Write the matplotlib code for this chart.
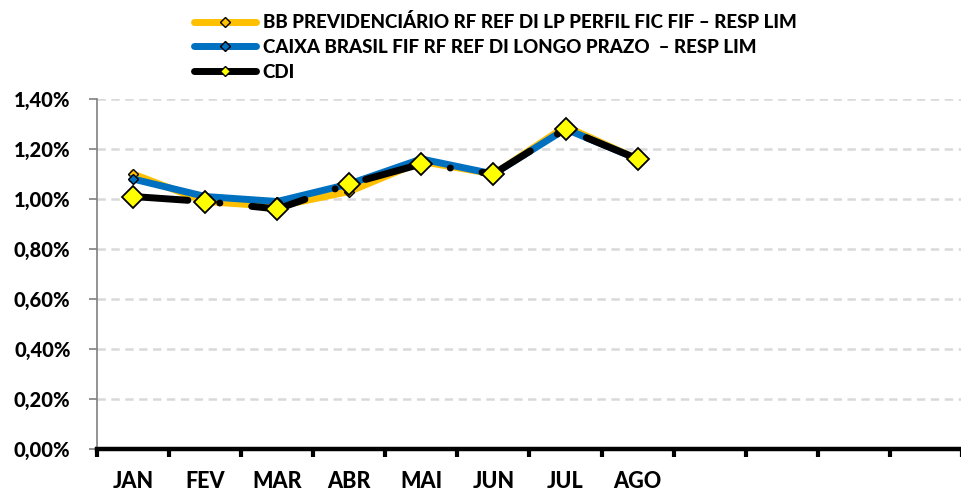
import numpy as np
import matplotlib.pyplot as plt
from matplotlib.lines import Line2D
from matplotlib.ticker import FuncFormatter

# Data
#-----------------------------------------------------------------------------#
months = ['JAN', 'FEV', 'MAR', 'ABR', 'MAI', 'JUN', 'JUL', 'AGO', '', '', '', '']
bb     = [1.10, 0.99, 0.97, 1.03, 1.15, 1.10, 1.29, 1.16]
caixa  = [1.08, 1.01, 0.99, 1.06, 1.16, 1.10, 1.28, 1.16]
cdi    = [1.01, 0.99, 0.96, 1.06, 1.14, 1.10, 1.28, 1.16]
labels = ['BB PREVIDENCIÁRIO RF REF DI LP PERFIL FIC FIF – RESP LIM',
          'CAIXA BRASIL FIF RF REF DI LONGO PRAZO  – RESP LIM',
          'CDI']
yticks = [0.0, 0.2, 0.4, 0.6, 0.8, 1.0, 1.2, 1.4]

plt.rcParams['font.family'] = ['Lato', 'DejaVu Sans']
plt.rcParams['font.weight'] = 'black'
plt.rcParams['lines.scale_dashes'] = False

c_bb, c_cx, c_cdi = '#FFC000', '#0070C0', '#000000'

# Figure
#-----------------------------------------------------------------------------#
fig = plt.figure(figsize=(9.62, 4.93), dpi=100)
ax  = fig.add_axes([97/962, 44/493, 865/962, 350/493])

x = np.arange(len(bb)) + 0.5
ax.plot(x, bb, color=c_bb, linewidth=5, marker='D', markersize=5.5,
        markerfacecolor=c_bb, markeredgecolor='k', markeredgewidth=1, zorder=3)
ax.plot(x, caixa, color=c_cx, linewidth=5, marker='D', markersize=5.5,
        markerfacecolor=c_cx, markeredgecolor='k', markeredgewidth=1, zorder=4)
ax.plot(x, cdi, color=c_cdi, linewidth=5, linestyle=(0, (39.6, 23, 0.1, 23)),
        dash_capstyle='round', zorder=5)
ax.plot(x, cdi, linestyle='none', marker='D', markersize=11.5,
        markerfacecolor='#FFFF00', markeredgecolor='k', markeredgewidth=1.3, zorder=6)

ax.set_xlim(0, len(months))
ax.set_ylim(0, 1.4)
ax.set_yticks(yticks)
ax.yaxis.set_major_formatter(FuncFormatter(lambda v, p: ('%.2f%%' % v).replace('.', ',')))
ax.set_xticks(np.arange(len(months) + 1))
ax.set_xticklabels([])
ax.set_xticks(np.arange(len(months)) + 0.5, minor=True)
ax.set_xticklabels(months, minor=True)

ax.grid(axis='y', color='#D9D9D9', linestyle=(0, (6, 4)), linewidth=1.8)
ax.set_axisbelow(True)
for s in ['top', 'right']:
    ax.spines[s].set_visible(False)
ax.spines['left'].set_color('#808080')
ax.spines['left'].set_linewidth(1.2)
ax.spines['bottom'].set_color('k')
ax.spines['bottom'].set_linewidth(3.2)
ax.spines['bottom'].set_zorder(7)
ax.tick_params(axis='y', colors='#808080', length=6, width=1.2, pad=13,
               labelcolor='k', labelsize=14.5)
ax.tick_params(axis='x', which='major', colors='k', length=6, width=3)
ax.tick_params(axis='x', which='minor', length=0, pad=16, labelsize=15.5)

handles = [Line2D([], [], color=c_bb, linewidth=5, marker='D', markersize=5,
                  markerfacecolor=c_bb, markeredgecolor='k', solid_capstyle='round'),
           Line2D([], [], color=c_cx, linewidth=5, marker='D', markersize=5,
                  markerfacecolor=c_cx, markeredgecolor='k', solid_capstyle='round'),
           Line2D([], [], color=c_cdi, linewidth=5, marker='D', markersize=5,
                  markerfacecolor='#FFFF00', markeredgecolor='k', solid_capstyle='round')]
fig.legend(handles, labels, loc='upper left', bbox_to_anchor=(181/962, 1.0),
           frameon=False, fontsize=13.5, handlelength=3.3, handletextpad=0.35,
           labelspacing=0.42, borderaxespad=0.3)

fig.savefig('out.png', dpi=100)
